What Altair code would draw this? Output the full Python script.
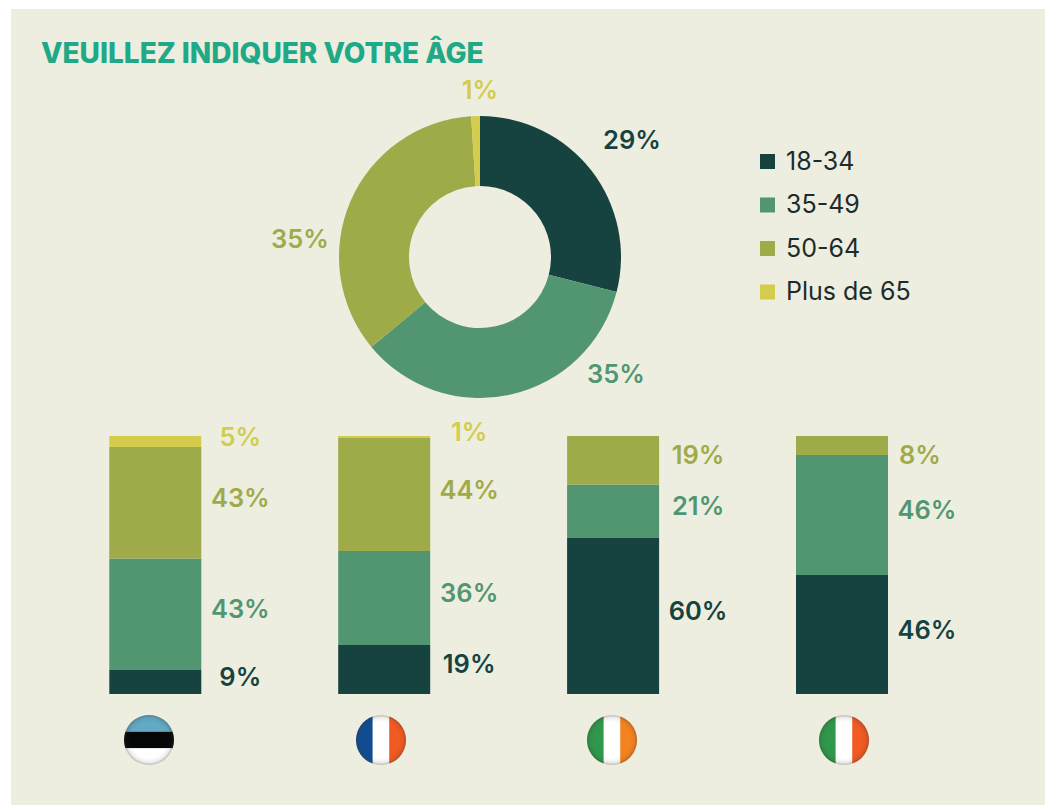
import altair as alt
import pandas as pd

AGES = ["18-34", "35-49", "50-64", "Plus de 65"]
COLORS = ["#164240", "#529671", "#9faa49", "#d3cc4d"]
COUNTRIES = ["Estonie", "France", "Irlande", "Italie"]
ESTONIA = [9.3, 43.2, 43.2, 4.3]
FRANCE = [19.0, 36.4, 43.8, 0.8]
IRELAND = [60.5, 20.7, 18.8, 0]
ITALY = [46.1, 46.5, 7.4, 0]
ESTONIA_LABELS = ["9%", "43%", "43%", "5%"]
FRANCE_LABELS = ["19%", "36%", "44%", "1%"]
IRELAND_LABELS = ["60%", "21%", "19%", ""]
ITALY_LABELS = ["46%", "46%", "8%", ""]
OVERALL = [29, 35, 35, 1]
TITLE = "VEUILLEZ INDIQUER VOTRE ÂGE"
PANEL = "#edeee0"
FONT = "Inter"
W, H = 1034, 796

rows = []
for c, vals, labs in zip(
    COUNTRIES,
    [ESTONIA, FRANCE, IRELAND, ITALY],
    [ESTONIA_LABELS, FRANCE_LABELS, IRELAND_LABELS, ITALY_LABELS],
):
    cum = 0
    for i, (a, v, lab) in enumerate(zip(AGES, vals, labs)):
        if v > 0:
            rows.append(dict(country=c, age=a, order=i, v=v, y0=cum, y1=cum + v, mid=cum + v / 2, label=lab))
        cum += v
bars = pd.DataFrame(rows)
donut = pd.DataFrame(dict(age=AGES, v=OVERALL, order=range(4)))

px = lambda x: x - 11
py = lambda y: y - 9
color = alt.Color(
    "age:N",
    scale=alt.Scale(domain=AGES, range=COLORS),
    legend=alt.Legend(
        title=None, orient="none", legendX=px(755), legendY=py(149), symbolType="square",
        symbolSize=225, symbolOpacity=1, labelFont=FONT, labelFontSize=25, labelColor="#1d2b2b",
        rowPadding=17.5, labelOffset=6, symbolStrokeWidth=0, labelFontWeight=400,
    ),
)

x_scale = alt.Scale(domain=COUNTRIES, range=[px(155.3), px(842)], type="point", padding=0)
x_enc = alt.X("country:N", scale=x_scale, axis=None)
y_scale = alt.Scale(domain=[0, 100], range=[py(694), py(436)])

bar_layer = alt.Chart(bars).mark_bar(size=92).encode(
    x=x_enc,
    y=alt.Y("y0:Q", scale=y_scale, axis=None),
    y2="y1:Q",
    color=color,
)
bar_text = alt.Chart(bars).transform_filter("datum.label != '8%'").mark_text(
    font=FONT, fontSize=25.5, fontWeight=600, dx=85, dy=-4, baseline="middle"
).encode(
    x=x_enc,
    y=alt.Y("mid:Q", scale=y_scale, axis=None),
    text="label:N",
    color=color,
)
italy8 = alt.Chart(bars).transform_filter("datum.label == '8%'").mark_text(
    font=FONT, fontSize=25.5, fontWeight=600, dx=78, dy=10, baseline="middle"
).encode(
    x=x_enc,
    y=alt.Y("mid:Q", scale=y_scale, axis=None),
    text="label:N",
    color=color,
)

arc = alt.Chart(donut).mark_arc(outerRadius=141, innerRadius=71).encode(
    theta=alt.Theta("v:Q", stack=True, scale=alt.Scale(domain=[0, 100], range=[0, 6.28318530718])),
    order=alt.Order("order:Q"),
    x=alt.value(px(480)),
    y=alt.value(py(257)),
    color=color,
)

donut_pos = [(632, 141), (616, 375), (300, 240), (480, 91)]
donut_labels = [
    alt.Chart(donut[donut.order == i]).transform_calculate(label="datum.v + '%'").mark_text(
        font=FONT, fontSize=25.5, fontWeight=600, baseline="middle", color=COLORS[i]
    ).encode(x=alt.value(px(p[0])), y=alt.value(py(p[1])), text=alt.Text("label:N"))
    for i, p in enumerate(donut_pos)
]

# flags: circular segments as custom symbol paths
LEFT = "M -0.33 -0.944 A 1 1 0 0 0 -0.33 0.944 Z"
MID = "M -0.33 -0.944 A 1 1 0 0 1 0.33 -0.944 L 0.33 0.944 A 1 1 0 0 1 -0.33 0.944 Z"
RIGHT = "M 0.33 -0.944 A 1 1 0 0 1 0.33 0.944 Z"
TOP = "M -0.944 -0.33 A 1 1 0 0 1 0.944 -0.33 Z"
BAND = "M -0.944 -0.33 L 0.944 -0.33 A 1 1 0 0 1 0.944 0.33 L -0.944 0.33 A 1 1 0 0 1 -0.944 -0.33 Z"
BOTTOM = "M -0.944 0.33 L 0.944 0.33 A 1 1 0 0 1 -0.944 0.33 Z"
FLAGS = [
    (149, [(TOP, "#62a9c4"), (BAND, "#050807"), (BOTTOM, "#ffffff")]),
    (381, [(LEFT, "#104c93"), (MID, "#ffffff"), (RIGHT, "#f15a22")]),
    (612, [(LEFT, "#2f984a"), (MID, "#ffffff"), (RIGHT, "#f58220")]),
    (844, [(LEFT, "#2f984a"), (MID, "#ffffff"), (RIGHT, "#f15a22")]),
]
FLAG_NAMES = dict(zip(COUNTRIES, FLAGS))
anchor = pd.DataFrame({"country": COUNTRIES})
flag_layers = []
R = 25
for c in COUNTRIES:
    cx, parts = FLAG_NAMES[c]
    d = anchor[anchor.country == c]
    for path, col in parts:
        flag_layers.append(
            alt.Chart(d).mark_point(shape=path, filled=True, fill=col, size=(2 * R) ** 2, opacity=1, strokeWidth=0).encode(
                x=alt.value(px(cx)), y=alt.value(py(740))
            )
        )
    flag_layers.append(
        alt.Chart(d).mark_point(
            shape="circle", filled=True, size=(2 * R) ** 2, opacity=1, strokeWidth=0,
            fill={"gradient": "radial", "x1": 0.5, "y1": 0.5, "x2": 0.5, "y2": 0.5, "r1": 0.36, "r2": 0.5,
                  "stops": [{"offset": 0, "color": "rgba(60,50,40,0)"}, {"offset": 0.6, "color": "rgba(60,50,40,0.08)"},
                            {"offset": 1, "color": "rgba(60,50,40,0.34)"}]},
        ).encode(x=alt.value(px(cx)), y=alt.value(py(740)))
    )

chart = alt.layer(
    bar_layer, bar_text, italy8, arc, *donut_labels, *flag_layers
).resolve_scale(x="independent", y="independent", color="shared", theta="independent").properties(
    width=W, height=H,
    padding={"left": 3, "top": 1, "right": 0, "bottom": 0},
    background="#ffffff",
    autosize=alt.AutoSizeParams(type="none"),
    title=alt.TitleParams(
        TITLE, anchor="start", font=FONT, fontSize=28, fontWeight=800, color="#1fa987", offset=-60, dx=30,
    ),
).configure_view(fill=PANEL, stroke=None)

chart.save("out.html", embed_options={"renderer": "svg", "actions": False})
